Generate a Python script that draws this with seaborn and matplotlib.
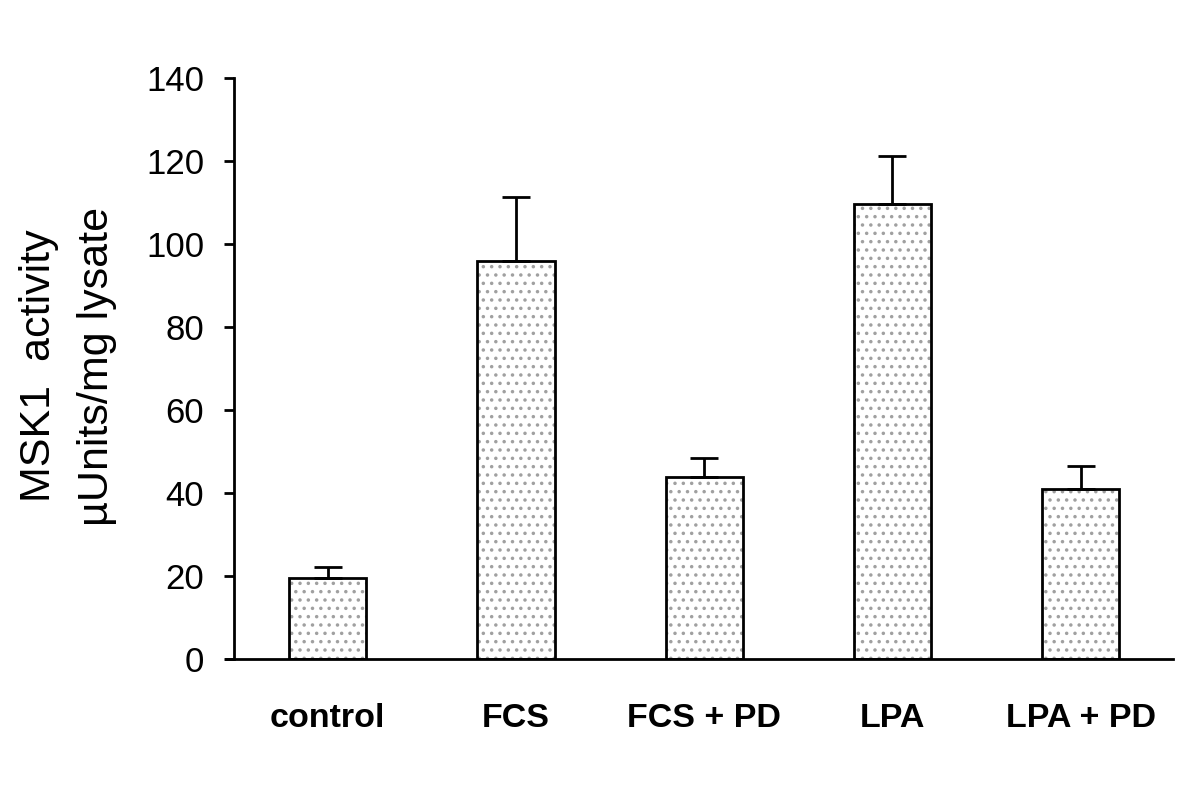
import matplotlib
matplotlib.use("Agg")
import matplotlib.pyplot as plt
import seaborn as sns
import pandas as pd
import numpy as np

categories = ["control", "FCS", "FCS + PD", "LPA", "LPA + PD"]
values = [19.5, 95.9, 43.9, 109.6, 41.0]
errors = [2.7, 15.4, 4.5, 11.6, 5.5]
yticks = [0, 20, 40, 60, 80, 100, 120, 140]

sns.set_style("white")
plt.rcParams['font.family'] = ['Liberation Sans', 'DejaVu Sans']
plt.rcParams['hatch.linewidth'] = 1.3

df = pd.DataFrame({"cat": categories, "val": values})

fig = plt.figure(figsize=(12, 7.85), dpi=100)
ax = fig.add_axes([226/1200, 1-659/785, (1173-226)/1200, (659-78)/785])

# hatched fill layer (gray dots)
sns.barplot(data=df, x="cat", y="val", ax=ax, color="white", width=0.41,
            hatch="..", edgecolor="#a0a0a0", linewidth=0, errorbar=None)
# outline layer
sns.barplot(data=df, x="cat", y="val", ax=ax, fill=False, width=0.41,
            edgecolor="black", linewidth=2, errorbar=None)

x = np.arange(len(categories))
ax.errorbar(x, values, yerr=[np.zeros(len(errors)), errors], fmt="none",
            ecolor="black", elinewidth=2, capsize=10, capthick=2, zorder=5)

for s in ["top", "right"]:
    ax.spines[s].set_visible(False)
ax.spines["left"].set_position(("data", -0.5))
ax.spines["left"].set_linewidth(2)
ax.spines["bottom"].set_linewidth(2)
ax.spines["left"].set_color("black")
ax.spines["bottom"].set_color("black")

ax.set_xlim(-0.54, 4.49)
ax.set_ylim(0, 140)
ax.set_yticks(yticks)
ax.set_yticklabels([str(t) for t in yticks])
ax.set_xticks(x)
ax.set_xticklabels(categories)
for lab in ax.get_xticklabels():
    lab.set_fontweight("bold")
    lab.set_fontsize(24.5)
    lab.set_color("black")
ax.tick_params(axis="x", length=0, pad=32)
ax.tick_params(axis="y", direction="out", length=7, width=2, pad=14, left=True,
               labelsize=25, labelcolor="black", color="black")

ax.set_ylabel("")
ax.set_xlabel("")
fig.text(39/1200, 1-366/785, "MSK1  activity", rotation=90, fontsize=31,
         ha="center", va="center", color="black")
fig.text(97/1200, 1-366/785, "µUnits/mg lysate", rotation=90, fontsize=31,
         ha="center", va="center", color="black")

fig.savefig("out.png", dpi=100)
